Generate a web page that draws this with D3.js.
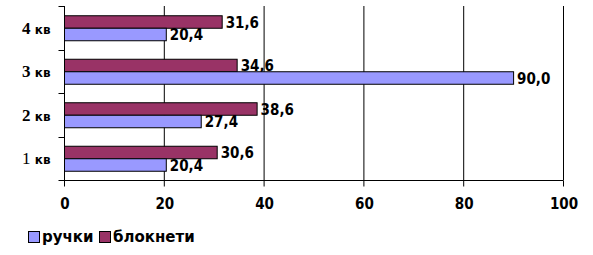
<!DOCTYPE html>
<html>
  <head>
    <meta charset="UTF-8" />
    <script src="https://d3js.org/d3.v7.min.js"></script>
    <style>
      body { margin: 0; background: #fff; }
    </style>
  </head>
  <body>
    <div id="chart"></div>
    <script>
      // data
      var categories = ["1 кв", "2 кв", "3 кв", "4 кв"];
      var pens = [20.4, 27.4, 90.0, 20.4];       // ручки
      var notebooks = [30.6, 38.6, 34.6, 31.6];  // блокнети
      var seriesNames = ["ручки", "блокнети"];
      var xTicks = [0, 20, 40, 60, 80, 100];

      var width = 593, height = 255;
      var margin = { top: 6, right: 30, bottom: 75, left: 64 };
      var plotW = 563 - margin.left, plotH = 180 - margin.top;

      var svg = d3.select("#chart").append("svg")
        .attr("width", width).attr("height", height);

      var g = svg.append("g")
        .attr("transform", "translate(" + margin.left + "," + margin.top + ")");

      var x = d3.scaleLinear().domain([0, 100]).range([0, plotW]);
      // 1 кв at the bottom
      var y = d3.scaleBand().domain(categories.slice().reverse()).range([0, plotH]);
      var inner = d3.scaleBand().domain(["notebooks", "pens"])
        .range([0, 25]);
      var off = (y.bandwidth() - 25) / 2;

      // gridlines
      g.selectAll(".grid").data(xTicks.slice(1))
        .enter().append("line")
        .attr("x1", d => x(d) + 0.5).attr("x2", d => x(d) + 0.5)
        .attr("y1", 0).attr("y2", plotH)
        .attr("stroke", "#000").attr("stroke-width", 1);

      var colors = { pens: "#9999ff", notebooks: "#993366" };
      var rows = categories.map((c, i) => ({ cat: c, pens: pens[i], notebooks: notebooks[i] }));

      var numFont = function (sel) {
        sel.attr("font-family", "DejaVu Sans Condensed, DejaVu Sans")
          .attr("font-stretch", "condensed")
          .attr("font-weight", "bold")
          .attr("font-size", "15px");
      };

      ["notebooks", "pens"].forEach(function (key) {
        g.selectAll(".bar-" + key).data(rows).enter().append("rect")
          .attr("x", x(0) + 0.5)
          .attr("y", d => y(d.cat) + off + inner(key) + 0.5)
          .attr("width", d => x(d[key]))
          .attr("height", inner.bandwidth())
          .attr("fill", colors[key])
          .attr("stroke", "#000").attr("stroke-width", 1);

        g.selectAll(".lab-" + key).data(rows).enter().append("text")
          .attr("x", d => x(d[key]) + 4)
          .attr("y", d => y(d.cat) + off + inner(key) + inner.bandwidth() / 2 + 1)
          .attr("dy", "0.36em")
          .call(numFont)
          .text(d => d3.format(".1f")(d[key]).replace(".", ","));
      });

      // y axis
      var yAxis = g.append("g").attr("transform", "translate(0.5,0)");
      yAxis.append("line").attr("x1", 0).attr("x2", 0).attr("y1", 0).attr("y2", plotH)
        .attr("stroke", "#000");
      var yTickPos = [0].concat(y.domain().map(d => y(d) + y.bandwidth()));
      yAxis.selectAll(".yt").data(yTickPos).enter().append("line")
        .attr("x1", -6).attr("x2", 0)
        .attr("y1", d => Math.round(d) + 0.5).attr("y2", d => Math.round(d) + 0.5)
        .attr("stroke", "#000");
      yAxis.selectAll(".yl").data(categories).enter().append("text")
        .attr("x", -14)
        .attr("y", d => y(d) + y.bandwidth() / 2)
        .attr("dy", "0.36em")
        .attr("text-anchor", "end")
        .attr("font-family", "Liberation Serif")
        .attr("font-size", "17px")
        .each(function (d) {
          var parts = d.split(" ");
          var t = d3.select(this);
          t.append("tspan").attr("font-weight", d === "1 кв" ? "normal" : "bold")
            .text(parts[0] + " ");
          t.append("tspan").attr("font-family", "DejaVu Sans")
            .attr("font-weight", "bold").attr("font-size", "12px").text(parts[1]);
        });

      // x axis
      var xAxis = g.append("g").attr("transform", "translate(0," + (plotH + 0.5) + ")");
      xAxis.append("line").attr("x1", 0).attr("x2", plotW + 0.5).attr("stroke", "#000");
      xAxis.selectAll(".xt").data(xTicks).enter().append("line")
        .attr("x1", d => x(d) + 0.5).attr("x2", d => x(d) + 0.5)
        .attr("y1", 0).attr("y2", 6).attr("stroke", "#000");
      xAxis.selectAll(".xl").data(xTicks).enter().append("text")
        .attr("x", d => x(d) + 1)
        .attr("y", 28)
        .attr("text-anchor", "middle")
        .call(numFont)
        .text(d => d);

      // legend
      var legend = svg.append("g").attr("transform", "translate(28,231)");
      var legendItems = [
        { name: seriesNames[0], color: colors.pens, x: 0 },
        { name: seriesNames[1], color: colors.notebooks, x: 71 }
      ];
      legendItems.forEach(function (it) {
        legend.append("rect").attr("x", it.x + 0.5).attr("y", 0.5)
          .attr("width", 11).attr("height", 11)
          .attr("fill", it.color).attr("stroke", "#000");
        legend.append("text").attr("x", it.x + 14).attr("y", 6)
          .attr("dy", "0.36em")
          .attr("font-family", "DejaVu Sans")
          .attr("font-weight", "bold")
          .attr("font-size", "15px")
          .text(it.name);
      });
    </script>
  </body>
</html>
